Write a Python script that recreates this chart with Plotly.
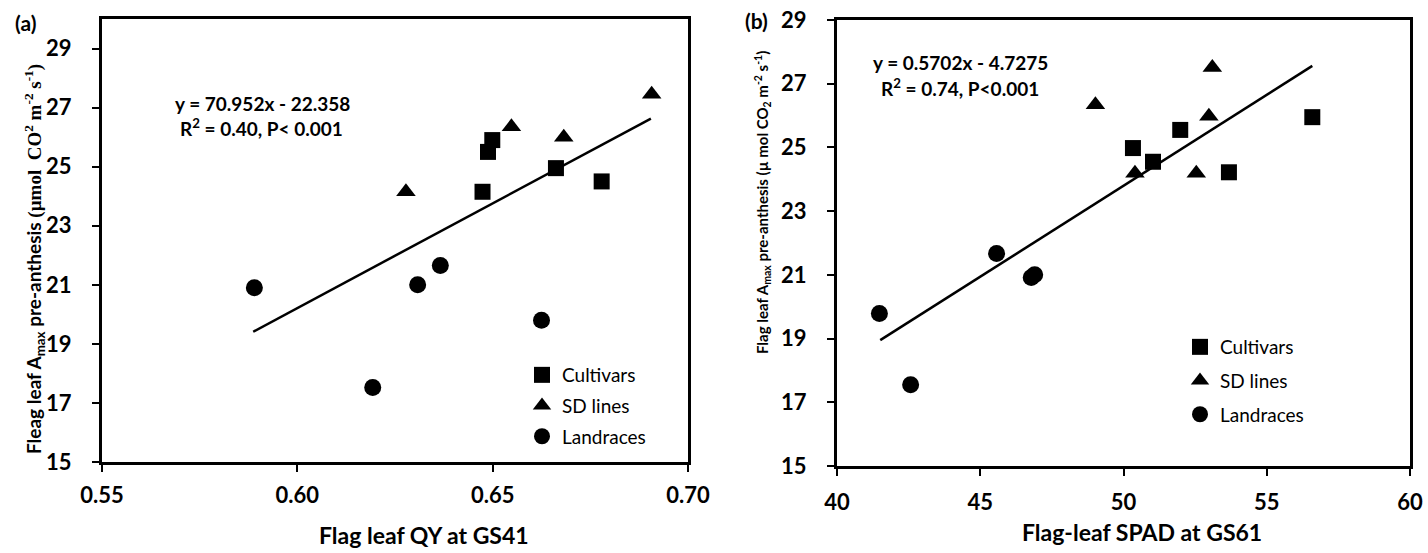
import plotly.graph_objects as go

W, H = 1428, 553

# ---------------- data: panel (a) ----------------
a_cult_x = [0.6474, 0.6488, 0.6499, 0.6662, 0.6779]
a_cult_y = [24.15, 25.50, 25.90, 24.95, 24.50]
a_sd_x = [0.6278, 0.6548, 0.6682, 0.6907]
a_sd_y = [24.15, 26.35, 26.00, 27.45]
a_land_x = [0.5890, 0.6193, 0.6308, 0.6366, 0.6625]
a_land_y = [20.90, 17.52, 21.00, 21.65, 19.80]
a_trend_x = [0.5887, 0.6905]
a_trend_y = [19.41, 26.63]

# ---------------- data: panel (b) ----------------
b_cult_x = [50.33, 51.03, 51.98, 53.68, 56.59]
b_cult_y = [24.98, 24.55, 25.55, 24.22, 25.95]
b_sd_x = [49.02, 50.40, 52.54, 52.98, 53.10]
b_sd_y = [26.34, 24.19, 24.19, 25.98, 27.51]
b_land_x = [41.48, 42.57, 45.57, 46.78, 46.90]
b_land_y = [19.79, 17.55, 21.67, 20.92, 21.00]
b_trend_x = [41.51, 56.59]
b_trend_y = [18.95, 27.56]

a_xticks = [0.55, 0.60, 0.65, 0.70]
a_xticklabels = ["0.55", "0.60", "0.65", "0.70"]
a_yticks = [15, 17, 19, 21, 23, 25, 27, 29]
b_xticks = [40, 45, 50, 55, 60]
b_yticks = [15, 17, 19, 21, 23, 25, 27, 29]

group_names = ["Cultivars", "SD lines", "Landraces"]
symbols = ["square", "triangle-up", "circle"]
sizes = [16, 17, 17]

FONT = "Lato"
fig = go.Figure()

def add_panel(xs, ys, tx, ty, xa, ya, legend):
    for i in range(3):
        fig.add_trace(go.Scatter(
            x=xs[i], y=ys[i], mode="markers", name=group_names[i],
            marker=dict(symbol=symbols[i], size=sizes[i], color="black",
                        line=dict(width=0)),
            xaxis=xa, yaxis=ya, legend=legend, legendgroup=legend + str(i),
            showlegend=True, cliponaxis=False))
    fig.add_trace(go.Scatter(
        x=tx, y=ty, mode="lines", line=dict(color="black", width=2.5),
        xaxis=xa, yaxis=ya, showlegend=False, hoverinfo="skip"))

add_panel([a_cult_x, a_sd_x, a_land_x], [a_cult_y, a_sd_y, a_land_y],
          a_trend_x, a_trend_y, "x", "y", "legend")
add_panel([b_cult_x, b_sd_x, b_land_x], [b_cult_y, b_sd_y, b_land_y],
          b_trend_x, b_trend_y, "x2", "y2", "legend2")

def px_x(p):
    return p / W

def px_y(p):
    return 1 - p / H

def bold(labels):
    return ["<b>%s</b>" % s for s in labels]

axis_common = dict(showline=True, linecolor="black", linewidth=3, mirror=True,
                   ticks="outside", ticklen=7, tickwidth=1.5, tickcolor="black",
                   showgrid=False, zeroline=False, automargin=False,
                   tickfont=dict(family=FONT, size=22, color="black", weight="bold"))

fig.update_layout(
    width=W, height=H,
    margin=dict(l=0, r=0, t=0, b=0),
    paper_bgcolor="white", plot_bgcolor="white",
    xaxis=dict(domain=[px_x(102), px_x(688)], range=[0.55, 0.70],
               tickvals=a_xticks, ticktext=bold(a_xticklabels), anchor="y",
               ticklabelstandoff=5, **axis_common),
    yaxis=dict(domain=[px_y(462), px_y(19)], range=[15, 30],
               tickvals=a_yticks, ticktext=bold([str(v) for v in a_yticks]),
               anchor="x", ticklabelstandoff=16, **axis_common),
    xaxis2=dict(domain=[px_x(837), px_x(1410)], range=[40, 60],
                tickvals=b_xticks, ticktext=bold([str(v) for v in b_xticks]),
                anchor="y2", ticklabelstandoff=8, **axis_common),
    yaxis2=dict(domain=[px_y(466), px_y(20)], range=[15, 29],
                tickvals=b_yticks, ticktext=bold([str(v) for v in b_yticks]),
                anchor="x2", ticklabelstandoff=16, **axis_common),
    legend=dict(x=px_x(522), y=px_y(356), xanchor="left", yanchor="top",
                bgcolor="rgba(0,0,0,0)", tracegroupgap=3, itemsizing="trace",
                font=dict(family=FONT, size=19, color="black")),
    legend2=dict(x=px_x(1180), y=px_y(328), xanchor="left", yanchor="top",
                 bgcolor="rgba(0,0,0,0)", tracegroupgap=6, itemsizing="trace",
                 font=dict(family=FONT, size=19, color="black")),
    showlegend=True,
)

def ann(text, x, y, size, angle=0, family=FONT):
    fig.add_annotation(text="<b>%s</b>" % text, x=px_x(x), y=px_y(y),
                       xref="paper", yref="paper",
                       showarrow=False, xanchor="center", yanchor="middle",
                       textangle=angle,
                       font=dict(family=family, size=size, color="black"))

# panel labels
ann("(a)", 25, 22, 21)
ann("(b)", 756, 21, 21)

# equations
ann("y = 70.952x - 22.358", 262, 103, 19)
ann("R<sup>2</sup> = 0.40, P< 0.001", 261, 127, 19)
ann("y = 0.5702x - 4.7275", 960, 62, 19)
ann("R<sup>2</sup> = 0.74, P<0.001", 960, 87, 19)

# x-axis titles
ann("Flag leaf QY at GS41", 424, 535, 23)
ann("Flag-leaf SPAD at GS61", 1142, 532, 23)

# y-axis titles
ann("Fleag leaf A<sub>max</sub> pre-anthesis "
    "<span style=\"font-family:'Liberation Serif'\">(µmol  CO<sup>2</sup> m<sup>-2</sup> s<sup>-1</sup>)</span>",
    34, 259, 19, angle=-90)
ann("Flag leaf A<sub>max</sub> pre-anthesis (µ mol CO<sub>2</sub> m<sup>-2</sup> s<sup>-1</sup>)",
    763, 203, 15, angle=-90)

fig.write_html("out.html", config={"displayModeBar": False},
               post_script="document.body.style.margin='0';document.body.style.padding='0';")
